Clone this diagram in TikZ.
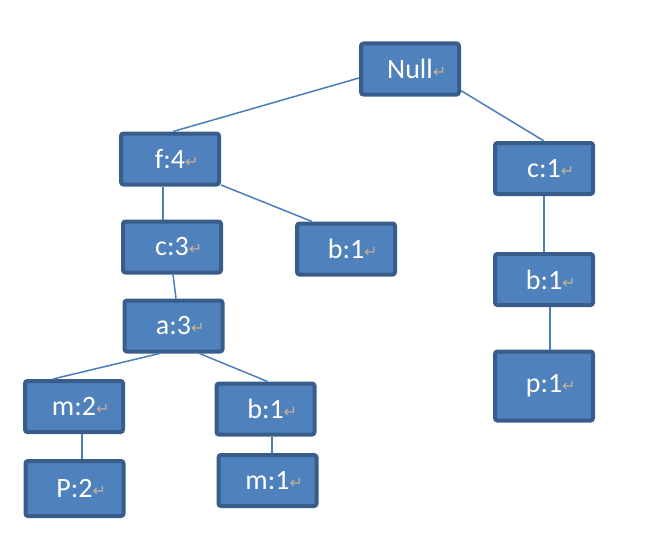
\documentclass[tikz,border=0pt]{standalone}
\usepackage{fontspec}
\setmainfont{Carlito}
\newfontfamily\markfont{DejaVu Sans}
\definecolor{boxfill}{HTML}{4F81BD}
\definecolor{boxline}{HTML}{385D8A}
\definecolor{edgecol}{HTML}{4A7EBB}
\definecolor{retc}{HTML}{C8AE98}
\newcommand{\lbl}[1]{#1\rlap{\fontsize{16}{16}\markfont\color{retc}\raisebox{1pt}{↵}}}
\begin{document}
\begin{tikzpicture}[x=1pt,y=-1pt,
  treebox/.style={draw=boxline, fill=boxfill, line width=4pt, rounded corners=2.5pt,
    minimum width=98pt, minimum height=51pt, inner sep=0pt, text=white,
    font=\fontsize{28}{28}\selectfont},
  edge/.style={draw=edgecol, line width=1.5pt}]
\useasboundingbox (0,0) rectangle (647,551);
\node[treebox] (null) at (410,69) {\lbl{Null}};
\node[treebox] (f4) at (170,159) {\lbl{f:4}};
\node[treebox] (c1) at (544,168.5) {\lbl{c:1}};
\node[treebox] (c3) at (172,247) {\lbl{c:3}};
\node[treebox] (b1m) at (346,249) {\lbl{b:1}};
\node[treebox] (b1r) at (544,279.5) {\lbl{b:1}};
\node[treebox] (a3) at (173.5,326) {\lbl{a:3}};
\node[treebox, minimum height=69pt] (p1) at (544,386) {\raisebox{5pt}{\lbl{p:1}}};
\node[treebox] (m2) at (74,406.5) {\lbl{m:2}};
\node[treebox] (b1l) at (265.5,409) {\lbl{b:1}};
\node[treebox, minimum height=55pt] (P2) at (74.5,488.5) {\lbl{P:2}};
\node[treebox] (m1) at (267.5,480.5) {\lbl{m:1}};
\draw[edge] (null.190) -- ([xshift=3pt]f4.north);
\draw[edge] (null.-23) -- (c1.north);
\draw[edge] ([xshift=-7pt]f4.south) -- ([xshift=-9pt]c3.north);
\draw[edge] (f4.-27) -- (b1m.141);
\draw[edge] ([xshift=1pt]c3.south) -- ([xshift=2.5pt]a3.north);
\draw[edge] ([xshift=-14pt]a3.south) -- ([xshift=-21pt]m2.north);
\draw[edge] ([xshift=26pt]a3.south) -- ([xshift=2pt]b1l.north);
\draw[edge] ([xshift=8pt]m2.south) -- ([xshift=7.5pt]P2.north);
\draw[edge] ([xshift=6.5pt]b1l.south) -- ([xshift=4.5pt]m1.north);
\draw[edge] (c1.south) -- (b1r.north);
\draw[edge] ([xshift=6pt]b1r.south) -- ([xshift=6pt]p1.north);
\end{tikzpicture}
\end{document}
